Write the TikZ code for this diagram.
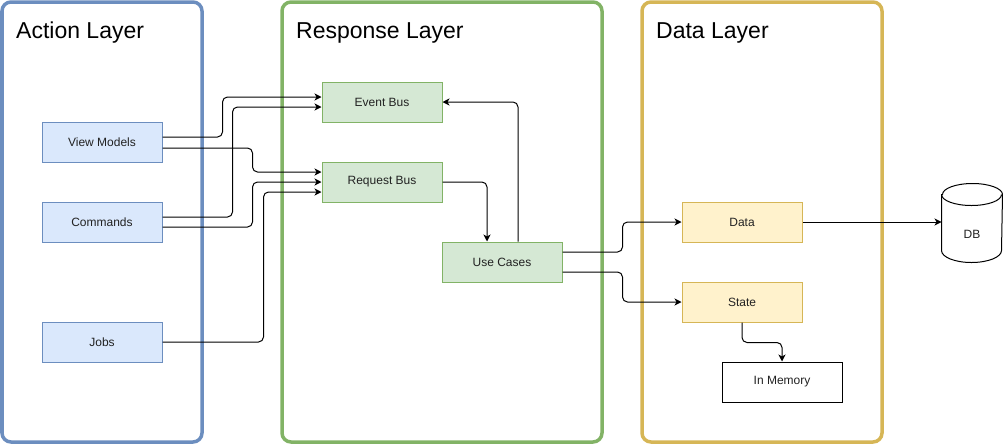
\documentclass[tikz,border=0pt]{standalone}
\usepackage{fontspec}
\setmainfont{Liberation Sans}
\usetikzlibrary{arrows.meta}
\definecolor{bstroke}{HTML}{6C8EBF}
\definecolor{bfill}{HTML}{DAE8FC}
\definecolor{gstroke}{HTML}{82B366}
\definecolor{gfill}{HTML}{D5E8D4}
\definecolor{ystroke}{HTML}{D6B656}
\definecolor{yfill}{HTML}{FFF2CC}
\definecolor{txt}{HTML}{222222}
\tikzset{
  frame/.style={line width=3.5pt, rounded corners=9pt},
  title/.style={anchor=base west, inner sep=0pt, font=\fontsize{23}{26}\selectfont},
  box/.style={rectangle, line width=1pt, minimum width=120pt, minimum height=40pt, inner sep=0pt, font=\fontsize{12}{14}\selectfont, text=txt},
  bluebox/.style={box, draw=bstroke, fill=bfill},
  greenbox/.style={box, draw=gstroke, fill=gfill},
  yellowbox/.style={box, draw=ystroke, fill=yfill},
  plainbox/.style={box, draw=black, fill=white},
  conn/.style={line width=1pt, rounded corners=5pt, -{Stealth[length=7pt,width=7pt,inset=2pt]}},
}
\begin{document}
\begin{tikzpicture}[x=1pt,y=-1pt]
\useasboundingbox (0,0) rectangle (1003,445);
% frames
\draw[frame, draw=bstroke] (2,2) rectangle (202,442);
\draw[frame, draw=gstroke] (282,2) rectangle (602,442);
\draw[frame, draw=ystroke] (642,2) rectangle (882,442);
\node[title] (t1) at (16,38.5) {Action Layer};
\node[title] (t2) at (296,38.5) {Response Layer};
\node[title] (t3) at (656,38.5) {Data Layer};
% boxes
\node[bluebox] (vm) at (102,142) {View Models};
\node[bluebox] (cmd) at (102,222) {Commands};
\node[bluebox] (jobs) at (102,342) {Jobs};
\node[greenbox] (eb) at (382,102) {Event Bus};
\node[greenbox] (rb) at (382,182) {Request Bus};
\node[greenbox] (uc) at (502,262) {Use Cases};
\node[yellowbox] (data) at (742,222) {Data};
\node[yellowbox] (state) at (742,302) {State};
\node[plainbox] (mem) at (782,382) {In Memory};
\node[box, minimum width=60pt, minimum height=78pt] (db) at (972,223) {};
\draw[line width=1pt, fill=white] ([yshift=-11pt]db.north west) -- ([yshift=12pt]db.south west)
  arc[start angle=180, end angle=360, x radius=30pt, y radius=12pt]
  -- ([yshift=-11pt]db.north east)
  arc[start angle=0, end angle=180, x radius=30pt, y radius=11pt] -- cycle;
\draw[line width=1pt] ([yshift=-11pt]db.north west)
  arc[start angle=180, end angle=360, x radius=30pt, y radius=11pt];
\node[font=\fontsize{12}{14}\selectfont, text=txt] (dbl) at ([yshift=-11pt]db.center) {DB};
% connectors
\draw[conn] ([yshift=5pt]vm.east) -- ++(60,0) |- ([yshift=5pt]eb.west);
\draw[conn] ([yshift=-6pt]vm.east) -- ++(90,0) |- ([yshift=10pt]rb.west);
\draw[conn] ([yshift=5pt]cmd.east) -- ++(70,0) |- ([yshift=-5pt]eb.west);
\draw[conn] ([yshift=-5pt]cmd.east) -- ++(90,0) |- (rb.west);
\draw[conn] (jobs.east) -- ++(101,0) |- ([yshift=-10pt]rb.west);
\draw[conn] (rb.east) -| ([xshift=-15pt]uc.north);
\draw[conn] ([xshift=16pt]uc.north) |- (eb.east);
\draw[conn] ([yshift=10pt]uc.east) -- ++(60,0) |- (data.west);
\draw[conn] ([yshift=-10pt]uc.east) -- ++(60,0) |- (state.west);
\draw[conn] (state.south) -- ++(0,20) -| (mem.north);
\draw[conn] (data.east) -- ([yshift=1pt]db.west);
\end{tikzpicture}
\end{document}
